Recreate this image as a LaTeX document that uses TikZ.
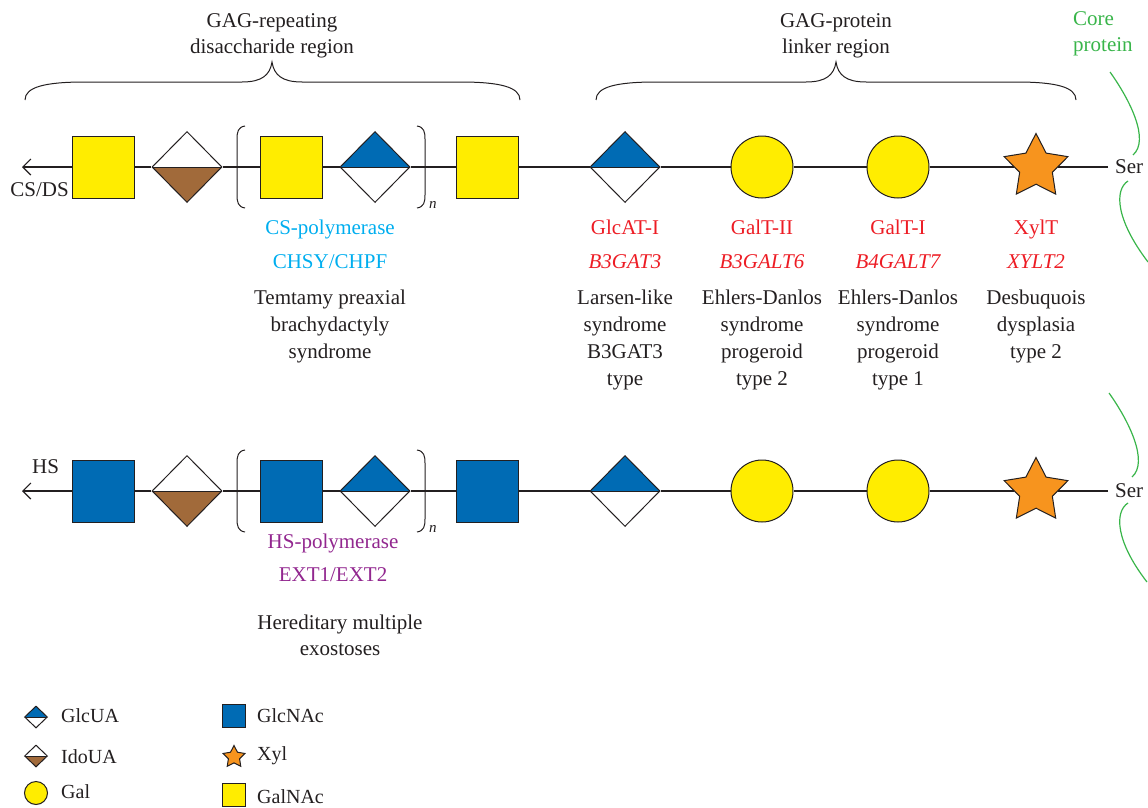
\documentclass[tikz,border=0pt]{standalone}
\usepackage{fontspec}
\setmainfont{Liberation Serif}
\usetikzlibrary{shapes.geometric,arrows.meta}
\definecolor{gyel}{RGB}{255,237,0}
\definecolor{gblue}{RGB}{0,107,180}
\definecolor{gbrown}{RGB}{161,106,58}
\definecolor{gorange}{RGB}{247,148,30}
\definecolor{ggreen}{RGB}{57,181,74}
\definecolor{gcyan}{RGB}{0,174,239}
\definecolor{gpurple}{RGB}{146,39,143}
\definecolor{gred}{RGB}{237,28,36}
\definecolor{gtext}{RGB}{35,31,32}
\begin{document}
\begin{tikzpicture}[x=1pt,y=-1pt,
  font=\fontsize{21}{27}\selectfont,
  lbl/.style={inner sep=0pt, text=gtext, anchor=base},
  red/.style={lbl, text=gred},
  leg/.style={inner sep=0pt, text=gtext, anchor=base west, font=\fontsize{20}{24}\selectfont},
  bb/.style={draw=gtext, line width=1.2pt},
  arr/.style={bb, -{Straight Barb[length=8pt,width=16pt]}},
  thin/.style={draw=gtext, line width=1pt},
  grn/.style={draw=ggreen, line width=1.2pt},
  shp/.style={draw=gtext, line width=1pt, inner sep=0pt},
  sq/.style={shp, rectangle, minimum size=62pt},
  dia/.style={shp, diamond, minimum width=70pt, minimum height=71pt},
  glc/.style={path picture={\fill[gblue] (path picture bounding box.north west) rectangle (path picture bounding box.east);
     \draw[gtext, line width=1pt] (path picture bounding box.west) -- (path picture bounding box.east);}},
  ido/.style={path picture={\fill[gbrown] (path picture bounding box.west) rectangle (path picture bounding box.south east);
     \draw[gtext, line width=1pt] (path picture bounding box.west) -- (path picture bounding box.east);}},
  gal/.style={shp, circle, fill=gyel, minimum size=62pt},
  xyl/.style={shp, star, star points=5, star point ratio=1.95, fill=gorange, minimum size=67pt},
  ssq/.style={shp, rectangle, minimum size=23pt},
  sdia/.style={shp, diamond, minimum width=23pt, minimum height=22pt},
  sgal/.style={shp, circle, fill=gyel, minimum size=23pt},
  sxyl/.style={shp, star, star points=5, star point ratio=1.95, fill=gorange, minimum size=23pt},
  ser/.style={inner xsep=7pt, inner ysep=0pt, text=gtext, anchor=west},
  nsub/.style={inner sep=0pt, text=gtext, anchor=base west, font=\fontsize{15}{15}\selectfont\itshape}
]
\useasboundingbox (0,0) rectangle (1148,808);

% ---------- braces ----------
\draw[thin] (25,100) .. controls (25,87) and (45,82) .. (85,82) -- (242,82)
  .. controls (262,82) and (270,75) .. (272,62)
  .. controls (274,75) and (282,82) .. (302,82) -- (460,82)
  .. controls (500,82) and (520,87) .. (520,100);
\draw[thin] (596,100) .. controls (596,87) and (616,82) .. (656,82) -- (806,82)
  .. controls (826,82) and (834,75) .. (836,62)
  .. controls (838,75) and (846,82) .. (866,82) -- (1016,82)
  .. controls (1056,82) and (1076,87) .. (1076,100);
\node[lbl] (r1) at (272,28) {GAG-repeating};
\node[lbl] (r2) at (272,54) {disaccharide region};
\node[lbl] (p1) at (836,28) {GAG-protein};
\node[lbl] (p2) at (836,54) {linker region};
\node[lbl, anchor=base west, text=ggreen] (c1) at (1073,26) {Core};
\node[lbl, anchor=base west, text=ggreen] (c2) at (1073,52) {protein};

% ---------- top row (CS/DS) ----------
\node[sq, fill=gyel] (a1) at (103,167) {};
\node[dia, ido] (a2) at (187,167) {};
\node[sq, fill=gyel] (a3) at (291,167) {};
\node[dia, glc] (a4) at (375,167) {};
\node[sq, fill=gyel] (a5) at (487,167) {};
\node[dia, glc] (a6) at (625,167) {};
\node[gal] (a7) at (762,167) {};
\node[gal] (a8) at (898,167) {};
\node[xyl] (a9) at (1036,167) {};
\node[ser] (a10) at (1108,167) {Ser};
\coordinate (a0) at (22,167);
\draw[arr] (a10.west) -- (a9) -- (a8) -- (a7) -- (a6) -- (a5) -- (a4) -- (a3) -- (a2) -- (a1) -- (a0);
\draw[thin] (245,126) .. controls (238,127) and (237,132) .. (237,139) -- (237,195) .. controls (237,202) and (238,207) .. (245,208);
\draw[thin] (417,126) .. controls (424,127) and (425,132) .. (425,139) -- (425,195) .. controls (425,202) and (424,207) .. (417,208);
\node[nsub] (an) at (429,208) {n};
\node[lbl, anchor=base east] (acs) at (69,196) {CS/DS};

\draw[grn] (1110,72) .. controls (1130,100) and (1150,140) .. (1133,155);
\draw[grn] (1128,181) .. controls (1114,190) and (1116,220) .. (1148,262);

% labels top
\node[lbl, text=gcyan] (t1) at (330,234) {CS-polymerase};
\node[lbl, text=gcyan] (t2) at (330,268) {CHSY/CHPF};
\node[lbl] (t3) at (330,304) {Temtamy preaxial};
\node[lbl] (t4) at (330,331) {brachydactyly};
\node[lbl] (t5) at (330,358) {syndrome};

\node[red] (g1) at (625,234) {GlcAT-I};
\node[red] (g2) at (625,268) {\itshape B3GAT3};
\node[lbl] (g3) at (625,304) {Larsen-like};
\node[lbl] (g4) at (625,331) {syndrome};
\node[lbl] (g5) at (625,358) {B3GAT3};
\node[lbl] (g6) at (625,385) {type};

\node[red] (h1) at (762,234) {GalT-II};
\node[red] (h2) at (762,268) {\itshape B3GALT6};
\node[lbl] (h3) at (762,304) {Ehlers-Danlos};
\node[lbl] (h4) at (762,331) {syndrome};
\node[lbl] (h5) at (762,358) {progeroid};
\node[lbl] (h6) at (762,385) {type 2};

\node[red] (k1) at (898,234) {GalT-I};
\node[red] (k2) at (898,268) {\itshape B4GALT7};
\node[lbl] (k3) at (898,304) {Ehlers-Danlos};
\node[lbl] (k4) at (898,331) {syndrome};
\node[lbl] (k5) at (898,358) {progeroid};
\node[lbl] (k6) at (898,385) {type 1};

\node[red] (x1) at (1036,234) {XylT};
\node[red] (x2) at (1036,268) {\itshape XYLT2};
\node[lbl] (x3) at (1036,304) {Desbuquois};
\node[lbl] (x4) at (1036,331) {dysplasia};
\node[lbl] (x5) at (1036,358) {type 2};

% ---------- bottom row (HS) ----------
\node[sq, fill=gblue] (b1) at (103,491) {};
\node[dia, ido] (b2) at (187,491) {};
\node[sq, fill=gblue] (b3) at (291,491) {};
\node[dia, glc] (b4) at (375,491) {};
\node[sq, fill=gblue] (b5) at (487,491) {};
\node[dia, glc] (b6) at (625,491) {};
\node[gal] (b7) at (762,491) {};
\node[gal] (b8) at (898,491) {};
\node[xyl] (b9) at (1036,491) {};
\node[ser] (b10) at (1108,491) {Ser};
\coordinate (b0) at (22,491);
\draw[arr] (b10.west) -- (b9) -- (b8) -- (b7) -- (b6) -- (b5) -- (b4) -- (b3) -- (b2) -- (b1) -- (b0);
\draw[thin] (245,450) .. controls (238,451) and (237,456) .. (237,463) -- (237,519) .. controls (237,526) and (238,531) .. (245,532);
\draw[thin] (417,450) .. controls (424,451) and (425,456) .. (425,463) -- (425,519) .. controls (425,526) and (424,531) .. (417,532);
\node[nsub] (bn) at (429,532) {n};
\node[lbl, anchor=base west] (bhs) at (32,473) {HS};

\draw[grn] (1109,393) .. controls (1129,421) and (1149,462) .. (1132,477);
\draw[grn] (1128,503) .. controls (1114,512) and (1116,542) .. (1147,582);

\node[lbl, text=gpurple] (u1) at (333,548) {HS-polymerase};
\node[lbl, text=gpurple] (u2) at (333,581) {EXT1/EXT2};
\node[lbl] (u3) at (340,629) {Hereditary multiple};
\node[lbl] (u4) at (340,655) {exostoses};

% ---------- legend ----------
\node[sdia, glc] (l1) at (36,717) {};
\node[leg] (l1t) at (61,722) {GlcUA};
\node[sdia, ido] (l2) at (36,756) {};
\node[leg] (l2t) at (61,763) {IdoUA};
\node[sgal] (l3) at (36,793) {};
\node[leg] (l3t) at (61,798) {Gal};
\node[ssq, fill=gblue] (l4) at (234,716) {};
\node[leg] (l4t) at (257,722) {GlcNAc};
\node[sxyl] (l5) at (234,757) {};
\node[leg] (l5t) at (257,760) {Xyl};
\node[ssq, fill=gyel] (l6) at (234,795) {};
\node[leg] (l6t) at (257,803) {GalNAc};
\end{tikzpicture}
\end{document}
